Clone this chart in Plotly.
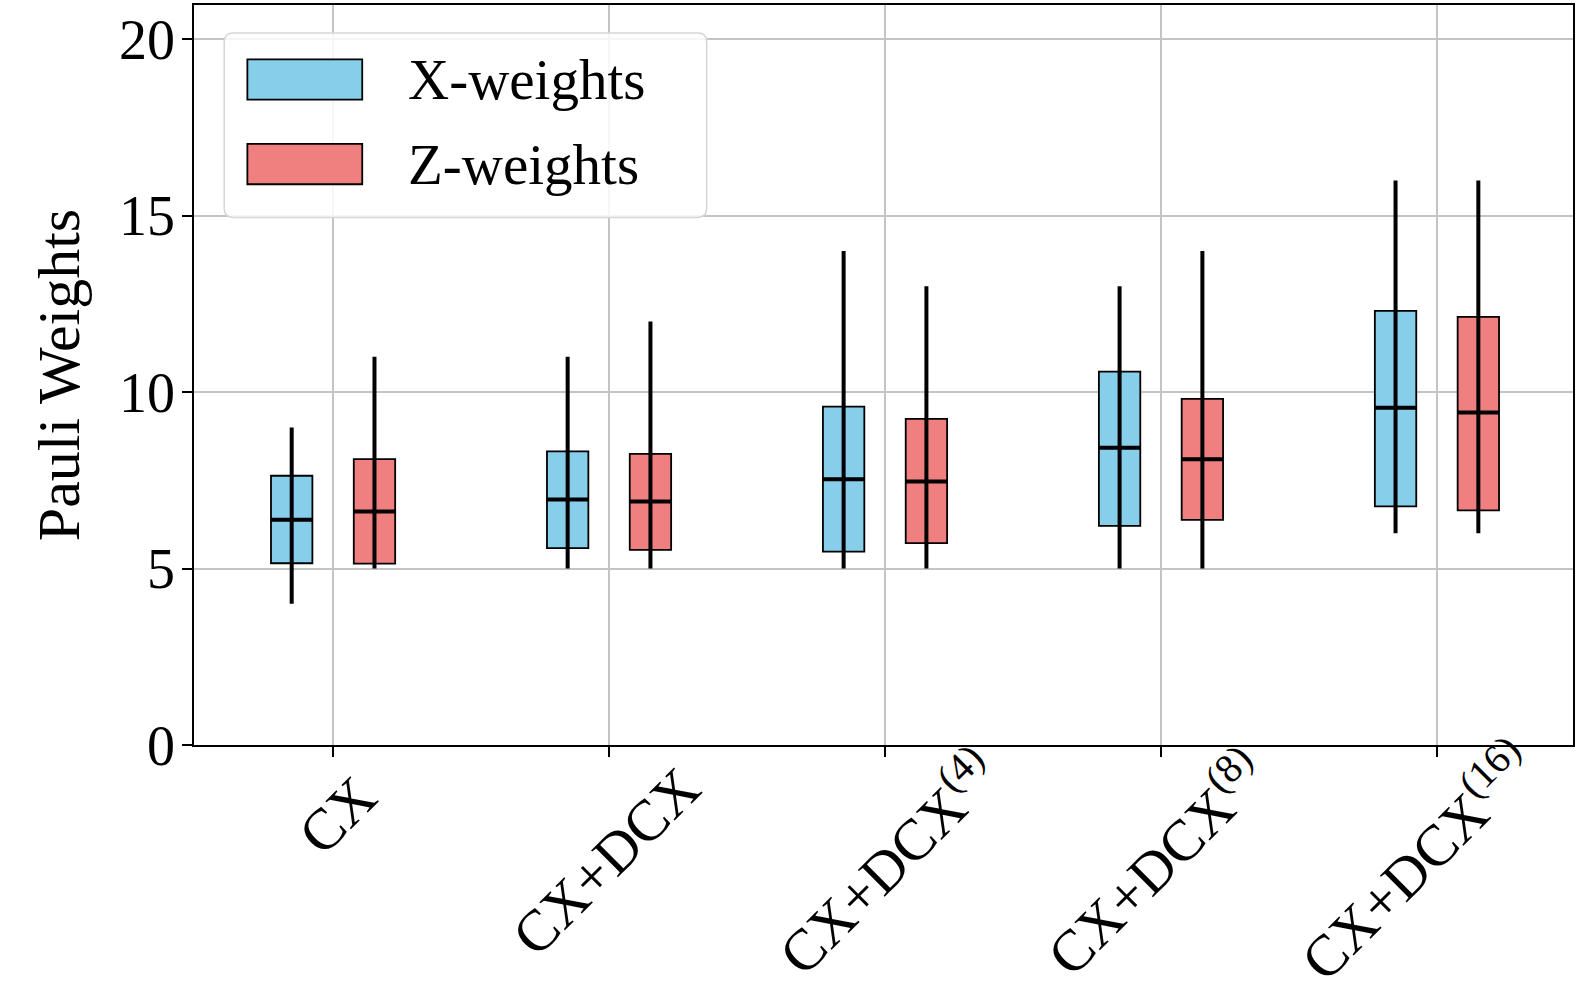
import plotly.graph_objects as go

categories = ["CX", "CX+DCX", "CX+DCX<sup>(4)</sup>", "CX+DCX<sup>(8)</sup>", "CX+DCX<sup>(16)</sup>"]

x_min = [4, 5, 5, 5, 6]
x_q1 = [5.15, 5.58, 5.48, 6.21, 6.76]
x_med = [6.38, 6.96, 7.53, 8.42, 9.56]
x_q3 = [7.63, 8.32, 9.59, 10.58, 12.30]
x_max = [9, 11, 14, 13, 16]

z_min = [5, 5, 5, 5, 6]
z_q1 = [5.14, 5.53, 5.72, 6.38, 6.65]
z_med = [6.62, 6.90, 7.47, 8.10, 9.42]
z_q3 = [8.10, 8.25, 9.24, 9.81, 12.13]
z_max = [11, 12, 13, 14, 16]

y_ticks = [0, 5, 10, 15, 20]
series_names = ["X-weights", "Z-weights"]
colors = ["#87CEEB", "#F08080"]
offset = 0.15
box_w = 0.15
FONT = "Liberation Serif"

# layout of the rotated category labels (label centres, paper y / pixel x shift)
label_center_y = [-0.095, -0.157, -0.157, -0.157, -0.1545]
label_xshift = [4, -3, 1, -6, -21]

fig = go.Figure()

idx = list(range(len(categories)))
groups = [
    (x_min, x_q1, x_med, x_q3, x_max, -offset, colors[0], series_names[0]),
    (z_min, z_q1, z_med, z_q3, z_max, offset, colors[1], series_names[1]),
]

for mn, q1, med, q3, mx, off, col, name in groups:
    xs = [i + off for i in idx]
    fig.add_trace(go.Bar(
        x=xs, y=[b - a for a, b in zip(q1, q3)], base=q1, width=box_w,
        marker=dict(color=col, line=dict(color="black", width=1.8)),
        name=name, showlegend=False,
    ))
    wx, wy, mxs, mys = [], [], [], []
    for x, lo, hi, m in zip(xs, mn, mx, med):
        wx += [x, x, None]
        wy += [lo, hi, None]
        mxs += [x - box_w / 2, x + box_w / 2, None]
        mys += [m, m, None]
    fig.add_trace(go.Scatter(x=wx, y=wy, mode="lines",
                             line=dict(color="black", width=4), showlegend=False))
    fig.add_trace(go.Scatter(x=mxs, y=mys, mode="lines",
                             line=dict(color="black", width=4), showlegend=False))

# rounded legend frame in paper coordinates
x0, x1, y0, y1 = 0.0219, 0.3718, 0.713, 0.962
rx, ry = 0.0066, 0.0122
path = (f"M {x0+rx},{y0} L {x1-rx},{y0} Q {x1},{y0} {x1},{y0+ry} "
        f"L {x1},{y1-ry} Q {x1},{y1} {x1-rx},{y1} "
        f"L {x0+rx},{y1} Q {x0},{y1} {x0},{y1-ry} "
        f"L {x0},{y0+ry} Q {x0},{y0} {x0+rx},{y0} Z")
fig.add_shape(type="path", xref="paper", yref="paper", path=path,
              line=dict(color="#d6d6d6", width=1.5), fillcolor="rgba(255,255,255,0.85)", layer="above")
legend_rows = [(0.8993, colors[0], series_names[0]), (0.785, colors[1], series_names[1])]
for yc, col, name in legend_rows:
    fig.add_shape(type="rect", xref="paper", yref="paper", x0=0.0387, x1=0.1220,
                  y0=yc - 0.0272, y1=yc + 0.0272,
                  line=dict(color="black", width=1.8), fillcolor=col, layer="above")
    fig.add_annotation(xref="paper", yref="paper", x=0.154, y=yc, text=name, showarrow=False,
                       xanchor="left", yanchor="middle", font=dict(family=FONT, size=57, color="black"))

# rotated category labels, centred under each tick
for i, lab, cy, xs_ in zip(idx, categories, label_center_y, label_xshift):
    fig.add_annotation(xref="x", yref="paper", x=i, y=cy, xshift=xs_, text=lab, showarrow=False,
                       textangle=-45, xanchor="center", yanchor="middle",
                       font=dict(family=FONT, size=58, color="black"))

fig.update_layout(
    width=1578, height=991,
    margin=dict(l=194, r=5, t=5, b=246),
    plot_bgcolor="white", paper_bgcolor="white",
    barmode="overlay",
    font=dict(family=FONT, size=56, color="black"),
    showlegend=False,
)
fig.update_xaxes(
    range=[-0.504, 4.493], tickmode="array", tickvals=idx, showticklabels=False,
    ticks="outside", ticklen=10, tickwidth=1.5, tickcolor="black",
    showgrid=True, gridcolor="#c4c4c4", gridwidth=1.5,
    showline=True, linecolor="black", linewidth=1.5, mirror=True,
    zeroline=False, automargin=False,
)
fig.update_yaxes(
    range=[0, 20.97], tickvals=y_ticks,
    ticks="outside", ticklen=10, tickwidth=1.5, tickcolor="black",
    showgrid=True, gridcolor="#c4c4c4", gridwidth=1.5,
    showline=True, linecolor="black", linewidth=1.5, mirror=True,
    tickfont=dict(family=FONT, size=56), zeroline=False, automargin=False,
    ticklabelstandoff=-4,
    title=dict(text="Pauli Weights", font=dict(family=FONT, size=60), standoff=20),
)

fig.write_html("out.html", config={"displayModeBar": False},
               post_script="document.body.style.margin='0';document.body.style.overflow='hidden';")
